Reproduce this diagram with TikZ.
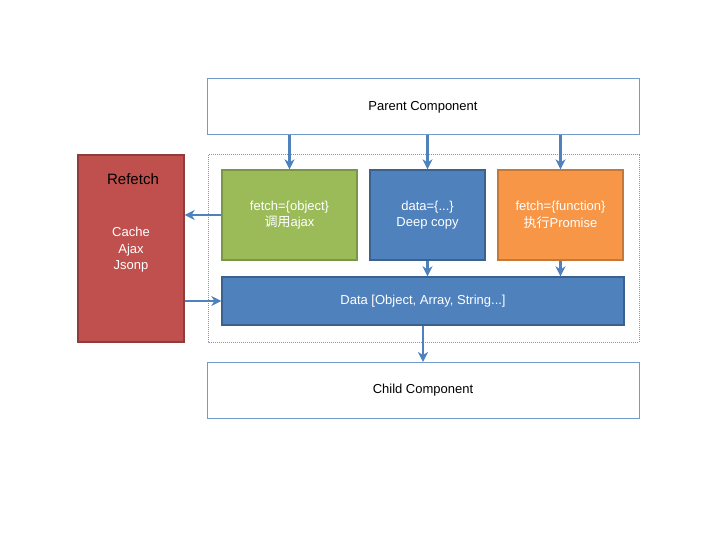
\documentclass[tikz,border=0pt]{standalone}
\usepackage{fontspec}
\setmainfont{Liberation Sans}
\newfontfamily\cjk{Noto Sans CJK SC}
\usepackage{xcolor}
\usetikzlibrary{arrows.meta,positioning}

\definecolor{linkblue}{HTML}{4F81BD}
\definecolor{boxblue}{HTML}{4F81BD}
\definecolor{boxgreen}{HTML}{9BBB59}
\definecolor{boxorange}{HTML}{F79646}
\definecolor{boxred}{HTML}{C0504D}
\newcommand{\boxfont}{\fontsize{13}{16.5}\selectfont}

\begin{document}
\begin{tikzpicture}[
    x=1pt, y=-1pt,
    comp/.style={rectangle, draw=linkblue!80, line width=1pt, fill=white, minimum width=432pt, minimum height=56pt, font=\boxfont},
    card/.style={rectangle, text=white, line width=1.3pt, minimum height=90pt, align=center, font=\boxfont, inner sep=0pt},
    store/.style={rectangle, draw=boxred!75!black, fill=boxred, line width=1.3pt, minimum width=106pt, minimum height=187pt},
    arrow/.style={-{Stealth[length=10pt,width=10pt,inset=3pt]}, draw=linkblue, line width=2.2pt}
]
\useasboundingbox (0,0) rectangle (720,540);

% Nodes
\node [comp] (parent) at (423,107) {Parent Component};
\draw [linkblue!80, densely dotted, line width=1pt] (208,155) rectangle (639,342);
\node [store] (refetch) at (131,248.5) {};
\node [font=\fontsize{15}{18}\selectfont] (title) at (133,179) {Refetch};
\node [text=white, align=center, font=\boxfont] (ways) at (131,250) {Cache\\Ajax\\Jsonp};
\node [card, draw=boxgreen!80!black, fill=boxgreen, minimum width=135pt] (object) at (289.5,215) {fetch=\{object\}\\{\cjk 调用}ajax};
\node [card, draw=boxblue!75!black, fill=boxblue, minimum width=115pt] (copy) at (427.5,215) {data=\{...\}\\Deep copy};
\node [card, draw=boxorange!80!black, fill=boxorange, minimum width=125pt] (promise) at (560.5,215) {fetch=\{function\}\\{\cjk 执行}Promise};
\node [card, draw=boxblue!75!black, fill=boxblue, minimum width=402pt, minimum height=48pt] (data) at (423,301) {Data [Object, Array, String...]};
\node [comp] (child) at (423,390.5) {Child Component};

% Arrows
\draw [arrow] (parent.south -| object.north) -- (object.north);
\draw [arrow] (parent.south -| copy.north) -- (copy.north);
\draw [arrow] (parent.south -| promise.north) -- (promise.north);
\draw [arrow] (object.west) -- (object.west -| refetch.east);
\draw [arrow] (data.west -| refetch.east) -- (data.west);
\draw [arrow] (copy.south) -- (copy.south |- data.north);
\draw [arrow] (promise.south) -- (promise.south |- data.north);
\draw [arrow] (data) -- (child);

\end{tikzpicture}
\end{document}
